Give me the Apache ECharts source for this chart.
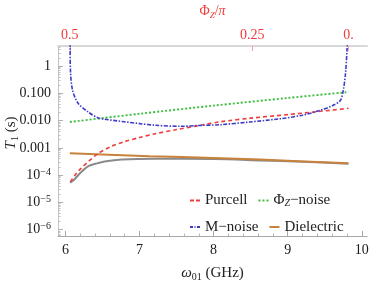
<!DOCTYPE html>
<html><head><meta charset="utf-8">
<script src="https://cdn.jsdelivr.net/npm/echarts@6/dist/echarts.min.js"></script>
<style>html,body{margin:0;padding:0;background:#fff}#c{width:374px;height:283px}</style>
</head><body><div id="c"></div>
<script>
// ---- tick data ----
const freqTicks = [6, 7, 8, 9, 10];
const freqMinorTicks = [6.2, 6.4, 6.6, 6.8, 7.2, 7.4, 7.6, 7.8, 8.2, 8.4, 8.6, 8.8, 9.2, 9.4, 9.6, 9.8];
const phiTickFreqs = [6.06, 8.52, 9.82];
const phiTickLabels = ['0.5', '0.25', '0.'];
const yTickExps = [-6, -5, -4, -3, -2, -1, 0];
const yTickLabels = ['{b|10}{s|−6}', '{b|10}{s|−5}', '{b|10}{s|−4}', '0.001', '0.010', '0.100', '1'];
const seriesNames = ['Purcell', 'ΦZ−noise', 'M−noise', 'Dielectric'];

// ---- series data (frequency in GHz, T1 in s) ----
const freqPurcell = [6.065, 6.13, 6.2, 6.31, 6.44, 6.6, 6.8, 7.0, 7.2, 7.5, 7.82, 8.1, 8.5, 9.0, 9.44, 9.82];
const t1Purcell = [5.62e-5, 1.0e-4, 1.66e-4, 3.16e-4, 6.17e-4, 1.07e-3, 1.70e-3, 2.40e-3, 3.24e-3, 4.68e-3, 6.76e-3, 9.12e-3, 1.23e-2, 1.66e-2, 2.19e-2, 2.82e-2];

const freqPhi = [6.06, 7.0, 8.0, 9.0, 9.82];
const t1Phi = [0.0089, 0.0178, 0.0355, 0.0676, 0.112];

const freqM = [6.061, 6.063, 6.07, 6.097, 6.173, 6.31, 6.44, 6.53, 7.0, 7.21, 7.55, 7.82, 8.09, 8.49, 8.9, 9.2, 9.44, 9.6, 9.71, 9.75, 9.78, 9.80, 9.815];
const t1M = [30, 5, 0.54, 0.129, 0.0427, 0.0204, 0.0126, 0.0112, 0.00776, 0.00676, 0.00617, 0.00665, 0.00708, 0.0089, 0.0117, 0.0158, 0.024, 0.035, 0.055, 0.129, 0.54, 3.8, 30];

const freqDiel = [6.06, 7.14, 8.0, 8.63, 9.82];
const t1Diel = [6.3e-4, 4.9e-4, 4.27e-4, 3.7e-4, 2.75e-4];

const freqTotal = [6.065, 6.13, 6.2, 6.31, 6.44, 6.53, 6.76, 7.2, 8.0, 8.63, 9.2, 9.82];
const t1Total = [5.2e-5, 7.4e-5, 1.2e-4, 2.14e-4, 2.75e-4, 3.16e-4, 3.7e-4, 3.98e-4, 3.9e-4, 3.47e-4, 3.1e-4, 2.63e-4];

const pairs = (xs, ys) => xs.map((x, i) => [x, ys[i]]);

const X_MIN = 5.9, X_MAX = 10.07;
const Y_MIN = 5.83e-7, Y_MAX = 5.46;
const yMinor = [];
for (let d = -7; d <= 0; d++) for (let k = 2; k <= 9; k++) {
  const v = k * Math.pow(10, d);
  if (v > Y_MIN && v < Y_MAX) yMinor.push(v);
}

const COLORS = {Purcell: '#f03c3c', 'ΦZ−noise': '#3cbe3c', 'M−noise': '#3c3cc8', Dielectric: '#c8823c'};
const ICONS = {
  Purcell: 'path://M0,0h4v2h-4z M6,0h4v2h-4z',
  'ΦZ−noise': 'path://M0,0h2v2h-2z M4,0h2v2h-2z M8,0h2v2h-2z',
  'M−noise': 'path://M0,0h3v2h-3z M4.5,0h1v2h-1z M7,0h3v2h-3z',
  Dielectric: 'path://M0,0h10v2h-10z'
};

const FONT = 'Liberation Serif';
const chart = echarts.init(document.getElementById('c'), null, {renderer: 'canvas'});
chart.setOption({
  animation: false,
  backgroundColor: '#fff',
  grid: {left: 58, right: 7, top: 46, bottom: 47, containLabel: false, outerBoundsMode: 'none'},
  legend: {
    data: seriesNames.map(n => ({name: n, icon: ICONS[n], itemStyle: {color: COLORS[n]}})),
    left: 185, top: 188, width: 178,
    itemWidth: 10, itemHeight: 2, itemGap: 11, symbolKeepAspect: false,
    formatter: n => n === 'ΦZ−noise' ? '{n|Φ}{sub|Z}{n|−noise}' : '{n|' + n + '}',
    textStyle: {
      fontFamily: FONT, fontSize: 15, color: '#222',
      rich: {
        n: {fontFamily: FONT, fontSize: 15, color: '#222', lineHeight: 16},
        sub: {fontFamily: FONT, fontSize: 10, fontStyle: 'italic', color: '#222', verticalAlign: 'bottom', lineHeight: 16}
      }
    }
  },
  xAxis: [
    {
      type: 'value', position: 'bottom', min: X_MIN, max: X_MAX,
      name: '{i|ω}{sub|01}{n| (GHz)}', nameLocation: 'middle', nameGap: 28, nameMoveOverlap: false,
      nameTextStyle: {rich: {
        i: {fontFamily: FONT, fontSize: 15, fontStyle: 'italic', color: '#222', lineHeight: 18},
        sub: {fontFamily: FONT, fontSize: 10, color: '#222', verticalAlign: 'bottom', lineHeight: 18},
        n: {fontFamily: FONT, fontSize: 15, color: '#222', lineHeight: 18}
      }},
      axisLine: {show: true, lineStyle: {color: '#a8a8a8', width: 1}},
      axisTick: {show: true, inside: true, length: 5, customValues: freqTicks, lineStyle: {color: '#a8a8a8'}},
      axisLabel: {customValues: freqTicks, margin: 7, fontFamily: FONT, fontSize: 14, color: '#1a1a1a'},
      splitLine: {show: false}
    },
    {
      type: 'value', position: 'top', min: X_MIN, max: X_MAX,
      name: '{n|Φ}{sub|Z}{n|/}{i|π}', nameLocation: 'middle', nameGap: 26, nameMoveOverlap: false,
      nameTextStyle: {rich: {
        n: {fontFamily: FONT, fontSize: 14, color: '#f03c3c', lineHeight: 18},
        i: {fontFamily: FONT, fontSize: 14, fontStyle: 'italic', color: '#f03c3c', lineHeight: 18},
        sub: {fontFamily: FONT, fontSize: 9, fontStyle: 'italic', color: '#f03c3c', verticalAlign: 'bottom', lineHeight: 18}
      }},
      axisLine: {show: true, lineStyle: {color: '#d8d8d8', width: 2}},
      axisTick: {show: true, inside: true, length: 5, customValues: phiTickFreqs, lineStyle: {color: '#f5a0a0'}},
      axisLabel: {
        customValues: phiTickFreqs, margin: 4, fontFamily: FONT, fontSize: 14, color: '#f03c3c',
        formatter: v => {
          let best = 0;
          phiTickFreqs.forEach((f, i) => { if (Math.abs(f - v) < Math.abs(phiTickFreqs[best] - v)) best = i; });
          return phiTickLabels[best];
        }
      },
      splitLine: {show: false}
    },
    {
      type: 'value', position: 'bottom', min: X_MIN, max: X_MAX,
      axisLine: {show: false},
      axisTick: {show: true, inside: true, length: 2.5, customValues: freqMinorTicks, lineStyle: {color: '#b8b8b8'}},
      axisLabel: {show: false},
      splitLine: {show: false}
    }
  ],
  yAxis: [
    {
      type: 'log', logBase: 10, position: 'left', min: Y_MIN, max: Y_MAX,
      name: '{i|T}{sub|1}{n| (s)}', nameLocation: 'middle', nameGap: 38, nameRotate: 90, nameMoveOverlap: false,
      nameTextStyle: {padding: [0, 0, 0, 16], rich: {
        i: {fontFamily: FONT, fontSize: 15, fontStyle: 'italic', color: '#222', lineHeight: 18},
        sub: {fontFamily: FONT, fontSize: 10, color: '#222', verticalAlign: 'bottom', lineHeight: 18},
        n: {fontFamily: FONT, fontSize: 15, color: '#222', lineHeight: 18}
      }},
      axisLine: {show: true, lineStyle: {color: '#c4c4c4', width: 1}},
      axisTick: {show: true, inside: true, length: 5, lineStyle: {color: '#b0b0b0'}},
      axisLabel: {
        showMinLabel: false, showMaxLabel: false, margin: 7,
        fontFamily: FONT, fontSize: 14, color: '#1a1a1a',
        formatter: v => {
          const e = Math.round(Math.log10(v));
          const i = yTickExps.indexOf(e);
          return i >= 0 && Math.abs(Math.log10(v) - e) < 1e-6 ? yTickLabels[i] : '';
        },
        rich: {
          b: {fontFamily: FONT, fontSize: 14, color: '#1a1a1a', lineHeight: 16},
          s: {fontFamily: FONT, fontSize: 10, color: '#1a1a1a', verticalAlign: 'top', lineHeight: 16}
        }
      },
      splitLine: {show: false}
    },
    {
      type: 'log', logBase: 10, position: 'left', min: Y_MIN, max: Y_MAX,
      axisLine: {show: false},
      axisTick: {show: true, inside: true, length: 2.5, customValues: yMinor, lineStyle: {color: '#c0c0c0'}},
      axisLabel: {show: false},
      splitLine: {show: false}
    }
  ],
  series: [
    {
      name: 'total', type: 'line', data: pairs(freqTotal, t1Total), smooth: 0.3,
      showSymbol: false, symbol: 'none', z: 1,
      lineStyle: {color: '#8a8a8a', width: 2}, itemStyle: {color: '#8a8a8a'}
    },
    {
      name: 'Dielectric', type: 'line', data: pairs(freqDiel, t1Diel), smooth: 0.3,
      showSymbol: false, symbol: 'none', z: 2,
      lineStyle: {color: COLORS.Dielectric, width: 2}, itemStyle: {color: COLORS.Dielectric}
    },
    {
      name: 'Purcell', type: 'line', data: pairs(freqPurcell, t1Purcell), smooth: 0.3,
      showSymbol: false, symbol: 'none', z: 3,
      lineStyle: {color: COLORS.Purcell, width: 1.6, type: [4, 3]}, itemStyle: {color: COLORS.Purcell}
    },
    {
      name: 'ΦZ−noise', type: 'line', data: pairs(freqPhi, t1Phi), smooth: 0.3,
      showSymbol: false, symbol: 'none', z: 3,
      lineStyle: {color: COLORS['ΦZ−noise'], width: 1.9, type: [2, 2]}, itemStyle: {color: COLORS['ΦZ−noise']}
    },
    {
      name: 'M−noise', type: 'line', data: pairs(freqM, t1M), smooth: 0.3,
      showSymbol: false, symbol: 'none', z: 3,
      lineStyle: {color: COLORS['M−noise'], width: 1.6, type: [4, 1.5, 1.5, 1.5]}, itemStyle: {color: COLORS['M−noise']}
    }
  ]
});
</script>
</body></html>
